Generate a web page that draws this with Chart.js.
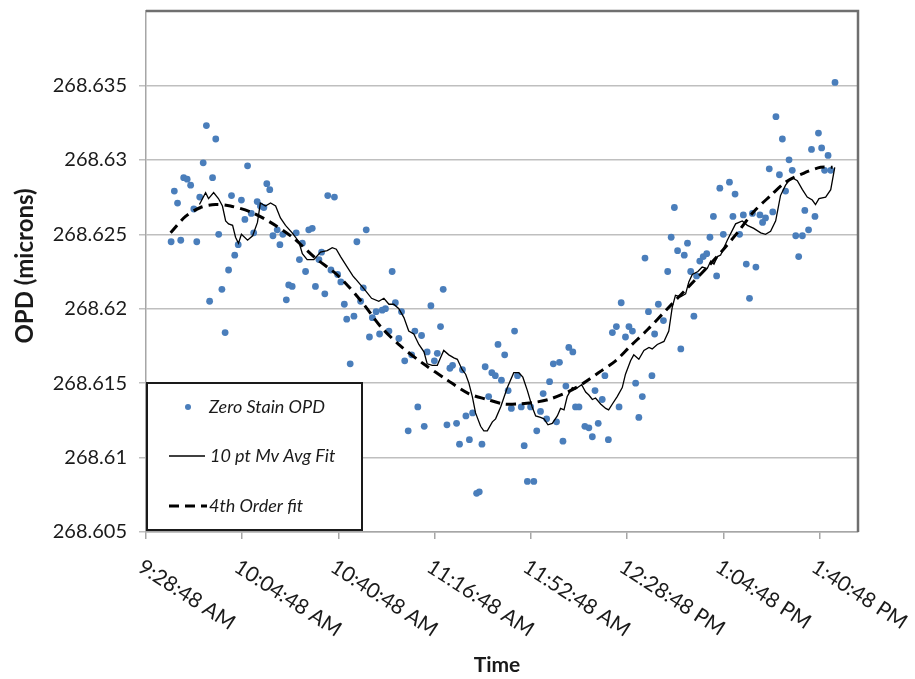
<!DOCTYPE html>
<html>
<head>
<meta charset="utf-8">
<title>Zero Stain OPD</title>
<script src="https://cdn.jsdelivr.net/npm/chart.js@4.4.0/dist/chart.umd.min.js"></script>
<style>
  html, body { margin: 0; padding: 0; background: #ffffff; }
  #wrap { width: 915px; height: 679px; }
</style>
</head>
<body>
<div id="wrap"><canvas id="chart" width="915" height="679"></canvas></div>
<script>
// Times are minutes after midnight; OPD values in microns.

// Zero Stain OPD measurements: [time, opd]
const zeroStainOpd = [
  [578.2,268.6245],[579.4,268.6279],[580.6,268.6271],[581.8,268.6246],[582.9,268.6288],
  [584.2,268.6287],[585.5,268.6283],[586.7,268.6267],[587.8,268.6245],[588.9,268.6275],
  [590.2,268.6298],[591.4,268.6323],[592.6,268.6205],[593.7,268.6288],[594.9,268.6314],
  [596.0,268.6250],[597.2,268.6213],[598.4,268.6184],[599.7,268.6226],[600.8,268.6276],
  [602.0,268.6236],[603.3,268.6243],[604.5,268.6273],[605.8,268.6260],[606.8,268.6296],
  [608.2,268.6264],[609.1,268.6251],[610.4,268.6272],[611.6,268.6269],[612.9,268.6268],
  [614.0,268.6284],[615.1,268.6280],[616.3,268.6249],[617.9,268.6253],[618.9,268.6243],
  [620.0,268.6250],[621.3,268.6206],[622.2,268.6216],[623.5,268.6215],[625.0,268.6251],
  [626.2,268.6233],[627.3,268.6244],[628.5,268.6225],[629.7,268.6253],[631.0,268.6254],
  [632.2,268.6215],[633.5,268.6233],[634.5,268.6238],[635.7,268.6210],[636.8,268.6276],
  [638.0,268.6226],[639.3,268.6275],[640.5,268.6223],[641.7,268.6218],[643.0,268.6203],
  [643.9,268.6193],[645.2,268.6163],[646.6,268.6195],[647.7,268.6245],[649.1,268.6205],
  [650.1,268.6214],[651.2,268.6253],[652.4,268.6181],[653.5,268.6194],[654.9,268.6198],
  [656.2,268.6183],[657.2,268.6199],[658.4,268.6200],[659.7,268.6185],[660.9,268.6225],
  [662.1,268.6204],[663.4,268.6180],[664.4,268.6198],[665.6,268.6165],[666.9,268.6118],
  [668.2,268.6169],[669.4,268.6185],[670.5,268.6134],[671.9,268.6182],[672.9,268.6121],
  [674.0,268.6171],[675.4,268.6202],[676.7,268.6165],[677.8,268.6170],[679.0,268.6188],
  [680.0,268.6213],[681.4,268.6122],[682.5,268.6160],[683.5,268.6162],[685.0,268.6123],
  [686.1,268.6109],[687.2,268.6159],[688.5,268.6128],[689.8,268.6112],[691.0,268.6130],
  [692.5,268.6076],[693.5,268.6077],[694.5,268.6109],[695.7,268.6161],[697.0,268.6141],
  [698.2,268.6157],[699.5,268.6155],[700.5,268.6176],[701.8,268.6152],[703.0,268.6169],
  [704.3,268.6145],[705.5,268.6133],[706.7,268.6185],[707.8,268.6155],[709.2,268.6134],
  [710.3,268.6108],[711.5,268.6084],[712.7,268.6134],[713.9,268.6084],[715.0,268.6118],
  [716.4,268.6131],[717.4,268.6143],[718.7,268.6126],[719.8,268.6151],[721.2,268.6163],
  [722.4,268.6124],[723.5,268.6164],[724.8,268.6111],[725.9,268.6148],[727.0,268.6174],
  [728.5,268.6171],[729.5,268.6134],[730.8,268.6134],[733.0,268.6121],[734.5,268.6120],
  [735.8,268.6114],[736.8,268.6145],[738.0,268.6123],[739.5,268.6139],[740.5,268.6155],
  [741.8,268.6112],[743.3,268.6184],[744.8,268.6188],[745.8,268.6134],[746.6,268.6204],
  [748.2,268.6181],[749.5,268.6188],[750.8,268.6185],[752.0,268.6150],[753.2,268.6127],
  [754.5,268.6141],[755.5,268.6234],[756.8,268.6198],[758.1,268.6155],[759.1,268.6183],
  [760.5,268.6203],[762.4,268.6192],[764.0,268.6225],[765.3,268.6248],[766.5,268.6268],
  [767.7,268.6239],[768.9,268.6173],[770.2,268.6236],[771.4,268.6244],[772.6,268.6225],
  [773.8,268.6195],[774.8,268.6222],[776.0,268.6232],[777.3,268.6235],[778.6,268.6237],
  [779.8,268.6248],[781.1,268.6262],[782.3,268.6222],[783.5,268.6281],[784.8,268.6250],
  [787.1,268.6285],[788.4,268.6262],[789.2,268.6277],[790.9,268.6250],[792.3,268.6263],
  [793.4,268.6230],[794.6,268.6207],[795.7,268.6264],[797.0,268.6228],[798.5,268.6263],
  [799.5,268.6258],[800.6,268.6261],[802.0,268.6294],[803.3,268.6265],[804.5,268.6329],
  [805.8,268.6290],[806.9,268.6314],[808.1,268.6279],[809.4,268.6300],[810.6,268.6293],
  [811.9,268.6249],[813.0,268.6235],[814.4,268.6249],[815.3,268.6266],[816.7,268.6253],
  [817.8,268.6307],[819.1,268.6262],[820.4,268.6318],[821.6,268.6308],[822.7,268.6293],
  [824.0,268.6303],[825.0,268.6293],[826.6,268.6352]
];

// 10-point moving average trace: [time, opd]
const movingAverage = [
  [588.8,268.6270],[591.1,268.6278],[592.2,268.6274],[594.1,268.6278],[595.9,268.6274],
  [597.4,268.6269],[598.6,268.6259],[599.7,268.6257],[601.2,268.6256],[602.3,268.6248],
  [603.4,268.6244],[604.5,268.6250],[606.8,268.6246],[608.7,268.6249],[610.5,268.6258],
  [611.6,268.6271],[613.5,268.6269],[615.4,268.6271],[617.3,268.6269],[619.1,268.6261],
  [621.0,268.6256],[623.5,268.6251],[626.0,268.6245],[627.3,268.6237],[629.1,268.6233],
  [631.6,268.6233],[634.1,268.6238],[636.6,268.6239],[638.5,268.6241],[640.0,268.6240],
  [641.6,268.6235],[644.1,268.6228],[646.2,268.6222],[647.2,268.6220],[649.1,268.6216],
  [651.0,268.6212],[653.2,268.6207],[655.9,268.6205],[657.8,268.6207],[659.7,268.6203],
  [661.5,268.6203],[663.4,268.6200],[665.3,268.6194],[667.1,268.6185],[669.0,268.6183],
  [670.9,268.6176],[672.8,268.6171],[674.0,268.6163],[675.9,268.6162],[677.8,268.6162],
  [679.0,268.6167],[680.2,268.6172],[682.1,268.6169],[684.0,268.6167],[685.3,268.6166],
  [687.1,268.6159],[688.4,268.6156],[689.6,268.6150],[690.9,268.6141],[692.1,268.6130],
  [694.0,268.6121],[695.2,268.6118],[696.5,268.6118],[698.4,268.6124],[699.6,268.6126],
  [701.5,268.6134],[704.0,268.6147],[706.4,268.6157],[708.3,268.6157],[709.8,268.6154],
  [711.5,268.6145],[713.3,268.6134],[714.6,268.6128],[716.4,268.6127],[717.7,268.6126],
  [719.2,268.6122],[720.8,268.6123],[722.7,268.6128],[723.9,268.6133],[725.2,268.6132],
  [726.4,268.6141],[728.3,268.6147],[729.5,268.6146],[731.8,268.6149],[733.3,268.6144],
  [734.5,268.6142],[735.8,268.6139],[737.0,268.6140],[738.9,268.6136],[740.8,268.6133],
  [741.9,268.6132],[743.3,268.6136],[745.1,268.6141],[747.0,268.6147],[748.2,268.6156],
  [750.1,268.6165],[751.3,268.6169],[753.2,268.6166],[755.1,268.6172],[757.0,268.6174],
  [758.2,268.6173],[760.1,268.6176],[762.6,268.6178],[764.4,268.6185],[765.7,268.6201],
  [766.9,268.6209],[768.8,268.6208],[770.7,268.6210],[771.9,268.6218],[773.2,268.6223],
  [775.3,268.6225],[776.9,268.6228],[778.8,268.6227],[780.1,268.6232],[781.3,268.6230],
  [782.6,268.6235],[783.8,268.6236],[786.3,268.6246],[789.4,268.6257],[791.9,268.6259],
  [793.8,268.6256],[796.2,268.6254],[798.8,268.6251],[800.6,268.6250],[802.5,268.6252],
  [804.4,268.6259],[806.2,268.6276],[808.1,268.6283],[809.4,268.6286],[810.6,268.6288],
  [812.5,268.6286],[814.4,268.6280],[816.2,268.6275],[818.1,268.6273],[819.3,268.6270],
  [820.6,268.6274],[823.1,268.6275],[825.0,268.6280],[826.5,268.6295]
];

// 4th order polynomial fit trace: [time, opd]
const fourthOrderFit = [
  [578.0,268.6251],[583.6,268.6262],[589.2,268.6268],[594.8,268.6270],[600.4,268.6269],
  [607.9,268.6265],[615.4,268.6258],[623.6,268.6248],[632.2,268.6234],[640.8,268.6222],
  [649.8,268.6204],[656.6,268.6188],[664.0,268.6175],[672.6,268.6163],[681.6,268.6152],
  [689.5,268.6143],[696.6,268.6139],[702.6,268.6136],[708.2,268.6136],[713.8,268.6137],
  [719.4,268.6139],[726.5,268.6144],[732.5,268.6150],[738.1,268.6157],[744.5,268.6165],
  [750.1,268.6175],[756.5,268.6186],[763.9,268.6200],[771.4,268.6214],[778.9,268.6228],
  [784.9,268.6240],[790.5,268.6252],[796.1,268.6265],[802.5,268.6276],[808.1,268.6285],
  [814.8,268.6291],[821.2,268.6295],[825.7,268.6295]
];

// Axis tick labels
const xTickLabels = ['9:28:48 AM', '10:04:48 AM', '10:40:48 AM', '11:16:48 AM',
                     '11:52:48 AM', '12:28:48 PM', '1:04:48 PM', '1:40:48 PM'];
const xAxisEnd = '1:55:12 PM';
const yTickLabels = ['268.605', '268.61', '268.615', '268.62', '268.625', '268.63', '268.635'];
const yAxisTop = 268.64;

const seriesNames = ['Zero Stain OPD', '10 pt Mv Avg Fit', '4th Order fit'];
const axisTitles = { x: 'Time', y: 'OPD (microns)' };

function clockToMinutes(label) {
  const [clock, half] = label.split(' ');
  let [h, m, s] = clock.split(':').map(Number);
  if (half === 'PM' && h !== 12) h += 12;
  if (half === 'AM' && h === 12) h = 0;
  return h * 60 + m + s / 60;
}

const xTickValues = xTickLabels.map(clockToMinutes);
const yTickValues = yTickLabels.map(parseFloat);
const toPoints = rows => rows.map(([x, y]) => ({ x, y }));

const FONT = 'Lato, "Open Sans", sans-serif';
const TEXT = '#1a1a1a';
const MARKER = '#4A7EBB';

// Rotated time labels, axis titles, frame and the boxed key
const decorations = {
  id: 'decorations',
  afterDraw(chart) {
    const { ctx, chartArea: a, scales } = chart;
    ctx.save();

    // plot frame, top and right edges
    ctx.strokeStyle = '#6f6f6f';
    ctx.lineWidth = 2.5;
    ctx.beginPath();
    ctx.moveTo(a.left, a.top);
    ctx.lineTo(a.right, a.top);
    ctx.lineTo(a.right, a.bottom);
    ctx.stroke();

    // time labels, slanted downward to the right
    ctx.fillStyle = TEXT;
    ctx.font = '21px ' + FONT;
    ctx.textAlign = 'left';
    ctx.textBaseline = 'top';
    xTickLabels.forEach((lab, i) => {
      const px = scales.x.getPixelForValue(xTickValues[i]);
      ctx.save();
      ctx.translate(px, a.bottom + 24);
      ctx.rotate(33 * Math.PI / 180);
      ctx.fillText(lab, 0, 0);
      ctx.restore();
    });

    // axis titles
    ctx.font = 'bold 21px ' + FONT;
    ctx.textAlign = 'center';
    ctx.textBaseline = 'alphabetic';
    ctx.fillText(axisTitles.x, 497, 672);
    ctx.save();
    ctx.translate(33, 266);
    ctx.rotate(-Math.PI / 2);
    ctx.font = 'bold 24px ' + FONT;
    ctx.fillText(axisTitles.y, 0, 0);
    ctx.restore();

    // key box
    const bx = 147, by = 383, bw = 215, bh = 147;
    ctx.fillStyle = '#ffffff';
    ctx.fillRect(bx, by, bw, bh);
    ctx.strokeStyle = '#1a1a1a';
    ctx.lineWidth = 2;
    ctx.strokeRect(bx, by, bw, bh);

    const rows = [407, 456, 506];
    ctx.font = 'italic 18px ' + FONT;
    ctx.textAlign = 'left';
    ctx.textBaseline = 'middle';

    // marker sample
    ctx.fillStyle = MARKER;
    ctx.beginPath();
    ctx.arc(188, rows[0], 3, 0, Math.PI * 2);
    ctx.fill();
    // solid line sample
    ctx.strokeStyle = '#000';
    ctx.lineWidth = 1.3;
    ctx.beginPath();
    ctx.moveTo(169, rows[1]);
    ctx.lineTo(205, rows[1]);
    ctx.stroke();
    // dashed line sample
    ctx.lineWidth = 3;
    ctx.setLineDash([10, 6]);
    ctx.beginPath();
    ctx.moveTo(169, rows[2]);
    ctx.lineTo(207, rows[2]);
    ctx.stroke();
    ctx.setLineDash([]);

    ctx.fillStyle = TEXT;
    ctx.fillText(seriesNames[0], 209, rows[0]);
    ctx.fillText(seriesNames[1], 210, rows[1]);
    ctx.fillText(seriesNames[2], 209, rows[2]);

    ctx.restore();
  }
};

new Chart(document.getElementById('chart'), {
  type: 'scatter',
  data: {
    datasets: [
      {
        label: seriesNames[2],
        data: toPoints(fourthOrderFit),
        showLine: true,
        borderColor: '#000000',
        borderWidth: 3,
        borderDash: [10, 6],
        pointRadius: 0,
        tension: 0.3,
        fill: false,
        order: 0
      },
      {
        label: seriesNames[1],
        data: toPoints(movingAverage),
        showLine: true,
        borderColor: '#000000',
        borderWidth: 1.3,
        pointRadius: 0,
        tension: 0,
        fill: false,
        order: 1
      },
      {
        label: seriesNames[0],
        data: toPoints(zeroStainOpd),
        showLine: false,
        backgroundColor: MARKER,
        borderColor: MARKER,
        borderWidth: 0,
        pointRadius: 3.4,
        order: 2
      }
    ]
  },
  options: {
    responsive: false,
    animation: false,
    devicePixelRatio: 1,
    layout: { padding: { top: 11, right: 57, bottom: 0, left: 0 } },
    plugins: {
      legend: { display: false },
      tooltip: { enabled: false }
    },
    scales: {
      x: {
        type: 'linear',
        min: xTickValues[0],
        max: clockToMinutes(xAxisEnd),
        afterBuildTicks: s => { s.ticks = xTickValues.map(v => ({ value: v })); },
        afterFit: s => { s.height = 147; s.paddingLeft = 0; s.paddingRight = 0; },
        grid: { drawOnChartArea: false, drawTicks: true, tickLength: 7, color: '#a6a6a6', lineWidth: 1.5 },
        border: { display: true, color: '#a6a6a6', width: 1.5 },
        ticks: { display: false }
      },
      y: {
        type: 'linear',
        min: yTickValues[0],
        max: yAxisTop,
        afterBuildTicks: s => { s.ticks = yTickValues.map(v => ({ value: v })); },
        afterFit: s => { s.width = 146; s.paddingTop = 0; s.paddingBottom = 0; },
        grid: { color: '#bfbfbf', lineWidth: 1.5, drawTicks: true, tickLength: 7 },
        border: { display: true, color: '#a6a6a6', width: 1.5 },
        ticks: {
          padding: 12,
          color: TEXT,
          font: { family: FONT, size: 20 },
          callback: (v, i) => yTickLabels[i]
        }
      }
    }
  },
  plugins: [decorations]
});
</script>
</body>
</html>
